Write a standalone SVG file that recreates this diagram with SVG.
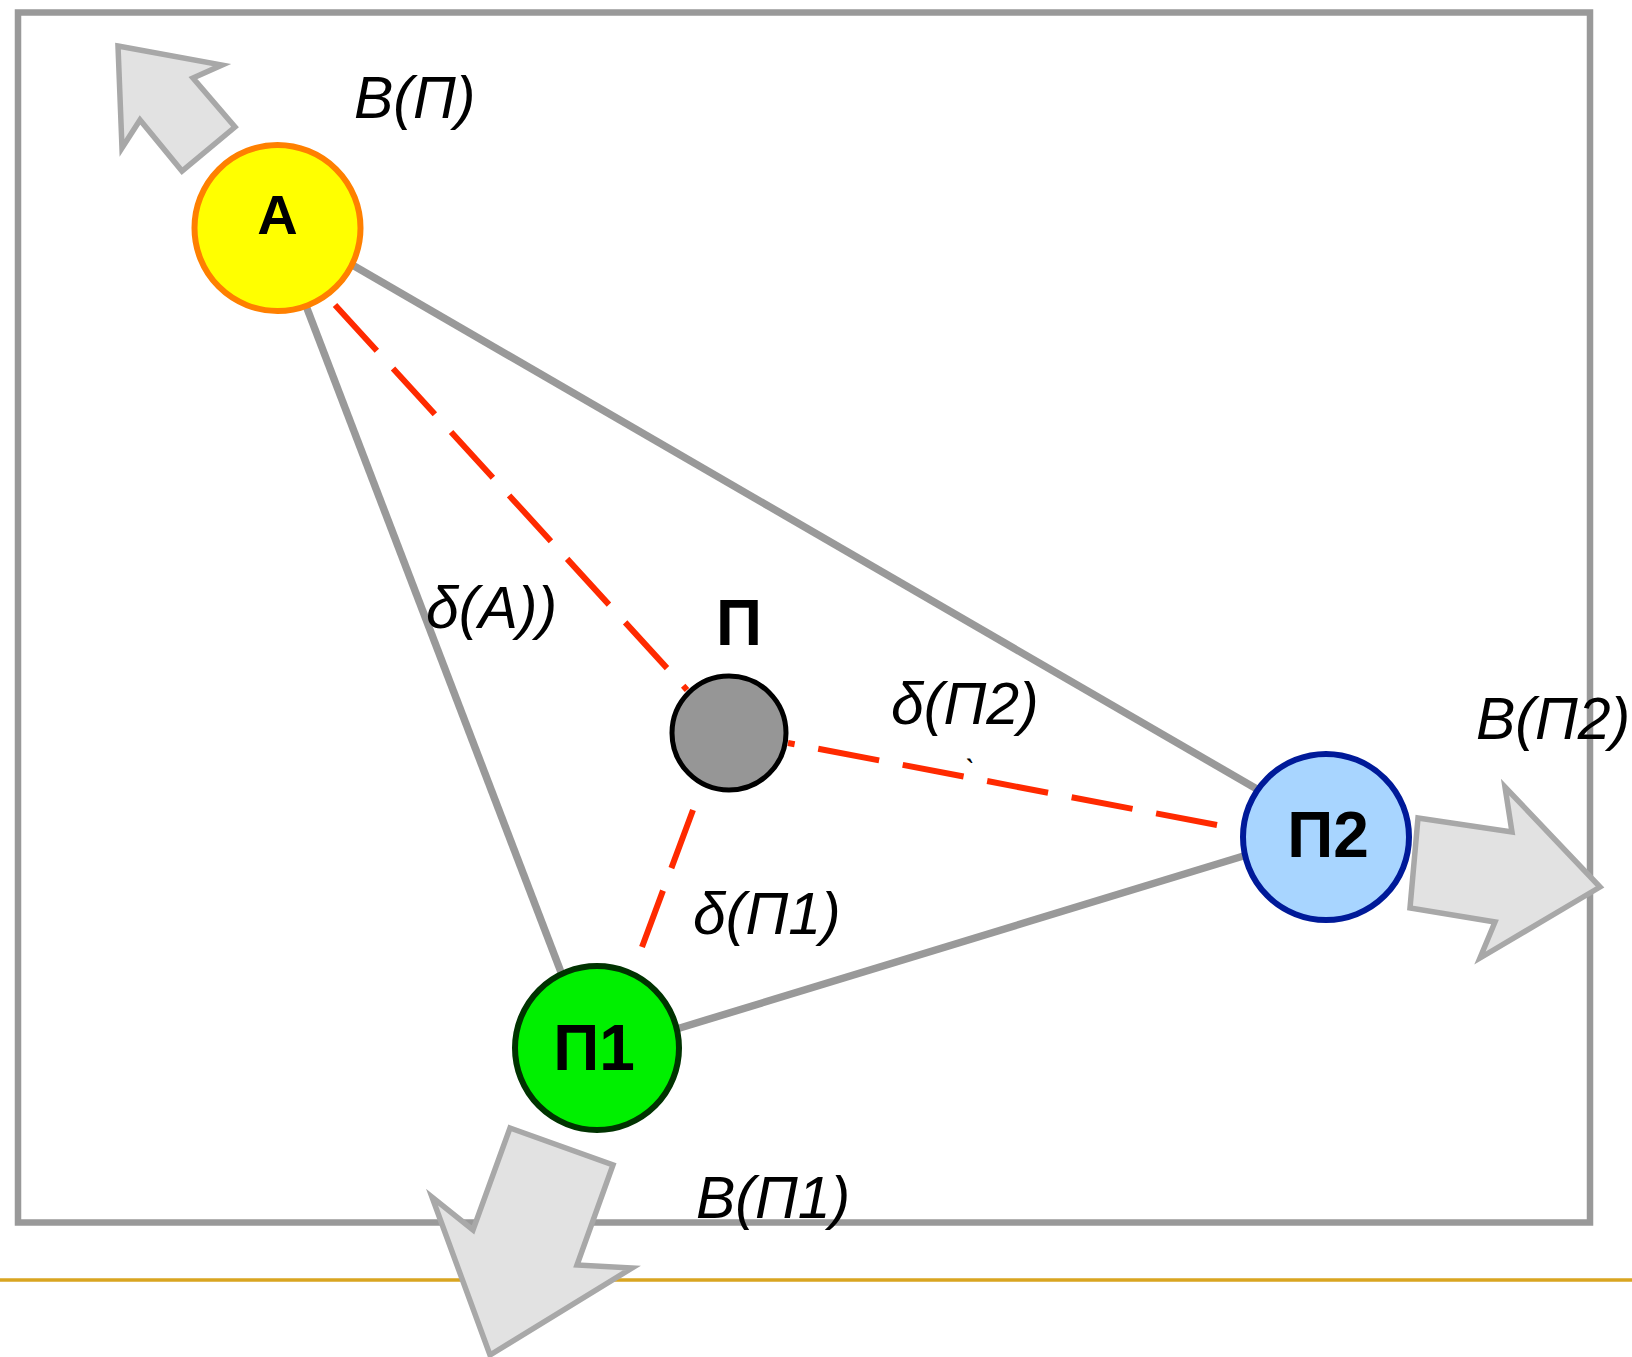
<svg xmlns="http://www.w3.org/2000/svg" width="1632" height="1357" viewBox="0 0 1632 1357">
<style>
.edge{stroke:#999999;stroke-width:7.5;fill:none;stroke-linecap:butt}
.dist{stroke:#ff2a00;stroke-width:6;fill:none;stroke-dasharray:62 24}
.arrow{fill:#e2e2e2;stroke:#a8a8a8;stroke-width:5.5;stroke-linejoin:miter}
.lbl{font-family:"Liberation Sans",Arial,sans-serif;font-style:italic;font-size:59px;fill:#000}
.nlbl{font-family:"Liberation Sans",Arial,sans-serif;font-weight:bold;font-size:64px;fill:#000;text-anchor:middle}
</style>
<rect width="1632" height="1357" fill="#ffffff"/>
<line x1="0" y1="1280" x2="1632" y2="1280" stroke="#d9a520" stroke-width="3.5"/>
<rect id="frame" x="18" y="12.5" width="1572" height="1210" fill="none" stroke="#999999" stroke-width="6.5"/>
<g id="connectors">
<line class="edge" x1="290" y1="264" x2="564" y2="980"/>
<line class="edge" x1="330" y1="252" x2="1262" y2="792"/>
<line class="edge" x1="670" y1="1031" x2="1250" y2="854"/>
<line class="dist" x1="335" y1="305" x2="687" y2="690"/>
<line class="dist" x1="1217" y1="825" x2="788" y2="743"/>
<line class="dist" x1="693" y1="810" x2="642" y2="947"/>
</g>
<g id="arrow-A"><polygon class="arrow" points="118,46 222,65 193,78 235,127 182,171 140,120 122,148"/></g>
<g id="arrow-P2"><polygon class="arrow" points="1418,818 1512,832 1505,787 1600,887 1480,958 1495,922 1410,908"/></g>
<g id="arrow-P1"><polygon class="arrow" points="510,1128 613,1165 577,1265 632,1268 490,1355 432,1197 473,1230"/></g>
<g id="node-A">
<circle cx="277.5" cy="228" r="83" fill="#ffff00" stroke="#ff8000" stroke-width="6"/>
<text class="nlbl" x="277.5" y="234" style="font-size:56px">A</text>
</g>
<g id="node-P">
<circle cx="729" cy="733" r="57" fill="#969696" stroke="#000000" stroke-width="5"/>
<text class="nlbl" x="739" y="645">П</text>
</g>
<g id="node-P2">
<circle cx="1326" cy="837" r="83" fill="#a8d5ff" stroke="#001a99" stroke-width="6"/>
<text class="nlbl" x="1328" y="857">П2</text>
</g>
<g id="node-P1">
<circle cx="597" cy="1048" r="82" fill="#00f000" stroke="#003300" stroke-width="6"/>
<text class="nlbl" x="594" y="1070">П1</text>
</g>
<g id="labels">
<text class="lbl" x="354" y="118">B(П)</text>
<text class="lbl" x="426" y="628">δ(A))</text>
<text class="lbl" x="891" y="724">δ(П2)</text>
<text class="lbl" x="965" y="780" style="font-size:30px">`</text>
<text class="lbl" x="693" y="934">δ(П1)</text>
<text class="lbl" x="1476" y="739">B(П2)</text>
<text class="lbl" x="696" y="1218">B(П1)</text>
</g>
</svg>
